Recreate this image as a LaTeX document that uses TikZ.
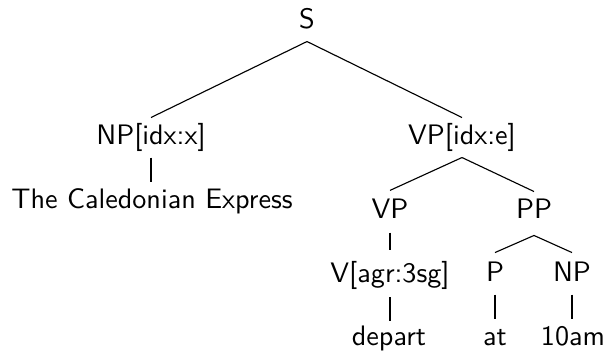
\documentclass[tikz,border=0pt]{standalone}
\begin{document}
\begin{tikzpicture}[x=0.355pt,y=-0.355pt,
  lab/.style={anchor=base,inner sep=0pt,text height=9.2pt,text depth=4.6pt,font=\sffamily},
  edge/.style={line width=0.4pt}]
\useasboundingbox (0,0) rectangle (607,351);
\node[lab] (S) at (307,28) {S};
\node[lab] (NPx) at (151,144) {NP[idx:x]};
\node[lab] (VPe) at (462,144) {VP[idx:e]};
\node[lab,text height=8.9pt] (TCE) at (152,208) {The Caledonian Express};
\node[lab,text height=9.6pt,text depth=5pt] (VP) at (390,218) {VP};
\node[lab,text depth=6pt] (PP) at (534,218) {PP};
\node[lab,text height=11pt,text depth=5.3pt] (V) at (390,282) {V[agr:3sg]};
\node[lab,text height=9.9pt] (P) at (495,281) {P};
\node[lab,text height=9.9pt] (NP) at (572,281) {NP};
\node[lab,text height=8.2pt] (dep) at (389,345) {depart};
\node[lab] (at) at (495,345) {at};
\node[lab] (am) at (573,345) {10am};
\draw[edge] (S.south) -- (NPx.north);
\draw[edge] (S.south) -- (VPe.north);
\draw[edge] (NPx.south) -- (NPx.south |- TCE.north);
\draw[edge] (VPe.south) -- (VP.north);
\draw[edge] (VPe.south) -- (PP.north);
\draw[edge] (VP.south) -- (V.north);
\draw[edge] (V.south) -- (V.south |- dep.north);
\draw[edge] (PP.south) -- (P.north);
\draw[edge] (PP.south) -- (NP.north);
\draw[edge] (P.south) -- (at.north);
\draw[edge] (NP.south) -- (NP.south |- am.north);
\end{tikzpicture}
\end{document}
